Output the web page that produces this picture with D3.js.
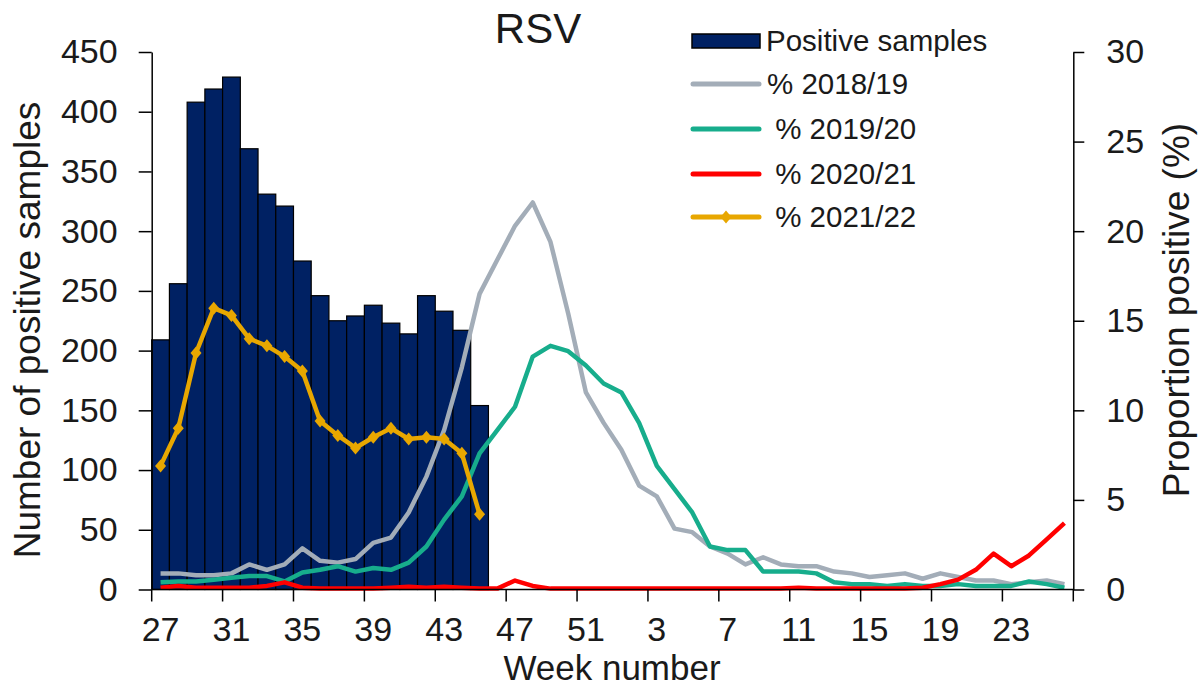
<!DOCTYPE html>
<meta charset="UTF-8">
<style>
    body { margin: 0; background: #fff; }
    svg text { font-family: "Liberation Sans", Arial, sans-serif; fill: #1a1a1a; }
    .axis path, .axis line { stroke: #000; stroke-width: 1.5px; }
    .axis text { font-size: 34px; }
    .line { fill: none; stroke-width: 4.5px; stroke-linejoin: round; }
</style>
<body>
<script src="https://d3js.org/d3.v7.min.js"></script>
<script>

// weeks 27..52 then 1..26
var weeks = d3.range(27, 53).concat(d3.range(1, 27));
var labelWeeks = [27, 31, 35, 39, 43, 47, 51, 3, 7, 11, 15, 19, 23];

// positive samples, weeks 27-45 of 2021/22
var positives = [209, 256, 408, 419, 429, 369, 331, 321, 275, 246, 225, 229, 238, 223, 214, 246, 233, 217, 154];

// proportion positive (%)
var pct1819 = [0.9, 0.9, 0.8, 0.8, 0.9, 1.4, 1.1, 1.4, 2.3, 1.6, 1.5, 1.7, 2.6, 2.9, 4.3, 6.3, 8.9, 12.4, 16.5, 18.4,
    20.3, 21.6, 19.4, 15.4, 11.0, 9.3, 7.8, 5.8, 5.2, 3.4, 3.2, 2.4, 2.0, 1.4, 1.8, 1.4, 1.3, 1.3, 1.0, 0.9,
    0.7, 0.8, 0.9, 0.6, 0.9, 0.7, 0.5, 0.5, 0.3, 0.4, 0.5, 0.3];
var pct1920 = [0.4, 0.45, 0.45, 0.55, 0.65, 0.75, 0.75, 0.45, 0.95, 1.1, 1.3, 1.0, 1.2, 1.1, 1.5, 2.4, 3.9, 5.2, 7.6, 8.9,
    10.2, 13.0, 13.6, 13.3, 12.5, 11.5, 11.0, 9.3, 6.9, 5.6, 4.3, 2.4, 2.2, 2.2, 1.0, 1.0, 1.0, 0.9, 0.4, 0.3,
    0.3, 0.2, 0.3, 0.2, 0.2, 0.3, 0.2, 0.2, 0.2, 0.45, 0.3, 0.1];
var pct2021 = [0.1, 0.2, 0.1, 0.1, 0.1, 0.1, 0.2, 0.4, 0.1, 0.05, 0.05, 0.05, 0.05, 0.1, 0.15, 0.1, 0.15, 0.1, 0.05, 0.05,
    0.5, 0.2, 0.05, 0.05, 0.05, 0.05, 0.05, 0.05, 0.05, 0.05, 0.05, 0.05, 0.05, 0.05, 0.05, 0.05, 0.1, 0.05, 0.05, 0.05,
    0.05, 0.05, 0.05, 0.1, 0.3, 0.55, 1.1, 2.0, 1.3, 1.9, 2.8, 3.7];
var pct2122 = [6.9, 9.0, 13.2, 15.7, 15.3, 14.0, 13.6, 13.0, 12.2, 9.4, 8.6, 7.9, 8.5, 9.0, 8.4, 8.5, 8.4, 7.6, 4.2];

var leftTicks = d3.range(0, 451, 50);
var rightTicks = d3.range(0, 31, 5);

var margin = {top: 52, left: 151.7},
    width = 921.6,
    height = 537.5;

var svg = d3.select("body").append("svg")
    .attr("width", 1202)
    .attr("height", 686);

var g = svg.append("g")
    .attr("transform", "translate(" + margin.left + "," + margin.top + ")");

var x = d3.scaleBand().domain(weeks).range([0, width]).padding(0);
var yL = d3.scaleLinear().domain([0, 450]).range([height, 0]);
var yR = d3.scaleLinear().domain([0, 30]).range([height, 0]);

// bars
g.selectAll(".bar")
    .data(positives)
    .enter().append("rect")
    .attr("class", "bar")
    .attr("x", function(d, i) { return x(weeks[i]); })
    .attr("width", x.bandwidth())
    .attr("y", function(d) { return yL(d); })
    .attr("height", function(d) { return height - yL(d); })
    .attr("fill", "#002163")
    .attr("stroke", "#000")
    .attr("stroke-width", 1.2);

var line = d3.line()
    .x(function(d, i) { return x(weeks[i]) + x.bandwidth() / 2; })
    .y(function(d) { return yR(d); });

var series = [
    {name: "% 2018/19", values: pct1819, color: "#a3adb8"},
    {name: " % 2019/20", values: pct1920, color: "#17ad8c"},
    {name: " % 2020/21", values: pct2021, color: "#ff0000"},
    {name: " % 2021/22", values: pct2122, color: "#e8a700", marker: true}
];

series.forEach(function(s) {
    g.append("path")
        .datum(s.values)
        .attr("class", "line")
        .attr("stroke", s.color)
        .attr("d", line);
});

// diamond markers for 2021/22
var diamond = "M0,-6.5L5.5,0L0,6.5L-5.5,0Z";
g.selectAll(".mk")
    .data(pct2122)
    .enter().append("path")
    .attr("class", "mk")
    .attr("d", diamond)
    .attr("fill", "#e8a700")
    .attr("transform", function(d, i) {
        return "translate(" + (x(weeks[i]) + x.bandwidth() / 2) + "," + yR(d) + ")";
    });

// left axis
g.append("g")
    .attr("class", "axis")
    .call(d3.axisLeft(yL).tickValues(leftTicks).tickSize(13).tickPadding(21).tickSizeOuter(0));

// right axis
g.append("g")
    .attr("class", "axis")
    .attr("transform", "translate(" + width + ",0)")
    .call(d3.axisRight(yR).tickValues(rightTicks).tickSize(11).tickPadding(22).tickSizeOuter(0));

// bottom axis: labels centred in categories, ticks between categories
var xAxis = g.append("g")
    .attr("class", "axis")
    .attr("transform", "translate(0," + height + ")")
    .call(d3.axisBottom(x).tickValues(labelWeeks).tickSize(0).tickPadding(27));
xAxis.select(".domain").remove();

g.append("line")
    .attr("x1", 0).attr("x2", width)
    .attr("y1", height).attr("y2", height)
    .attr("stroke", "#000").attr("stroke-width", 1.5);

var bounds = labelWeeks.map(function(w) { return x(w); }).concat([width]);
g.selectAll(".xtick")
    .data(bounds)
    .enter().append("line")
    .attr("x1", function(d) { return d; })
    .attr("x2", function(d) { return d; })
    .attr("y1", height)
    .attr("y2", height + 12)
    .attr("stroke", "#000")
    .attr("stroke-width", 1.5);

// titles
svg.append("text")
    .attr("x", 538).attr("y", 43)
    .attr("text-anchor", "middle")
    .style("font-size", "42px")
    .text("RSV");

svg.append("text")
    .attr("x", 612).attr("y", 680)
    .attr("text-anchor", "middle")
    .style("font-size", "35px")
    .text("Week number");

svg.append("text")
    .attr("transform", "translate(40,330) rotate(-90)")
    .attr("text-anchor", "middle")
    .style("font-size", "37px")
    .text("Number of positive samples");

svg.append("text")
    .attr("transform", "translate(1189,310) rotate(-90)")
    .attr("text-anchor", "middle")
    .style("font-size", "37px")
    .text("Proportion positive (%)");

// legend
var legend = svg.append("g").attr("transform", "translate(692,0)");
var rows = [41, 84, 129, 174, 217];

legend.append("rect")
    .attr("x", 0).attr("y", rows[0] - 7)
    .attr("width", 68).attr("height", 14)
    .attr("fill", "#002163").attr("stroke", "#000").attr("stroke-width", 1.5);
legend.append("text")
    .attr("x", 74).attr("y", rows[0]).attr("dy", "0.35em")
    .style("font-size", "29.5px")
    .text("Positive samples");

series.forEach(function(s, i) {
    var yy = rows[i + 1];
    legend.append("line")
        .attr("x1", 1).attr("x2", 67)
        .attr("y1", yy).attr("y2", yy)
        .attr("stroke", s.color).attr("stroke-width", 5)
        .attr("stroke-linecap", "round");
    if (s.marker) {
        legend.append("path")
            .attr("d", diamond)
            .attr("fill", s.color)
            .attr("transform", "translate(34," + yy + ")");
    }
    legend.append("text")
        .attr("x", 75).attr("y", yy).attr("dy", "0.35em")
        .style("font-size", "29.5px")
        .style("white-space", "pre")
        .text(s.name);
});

</script>
</body>
